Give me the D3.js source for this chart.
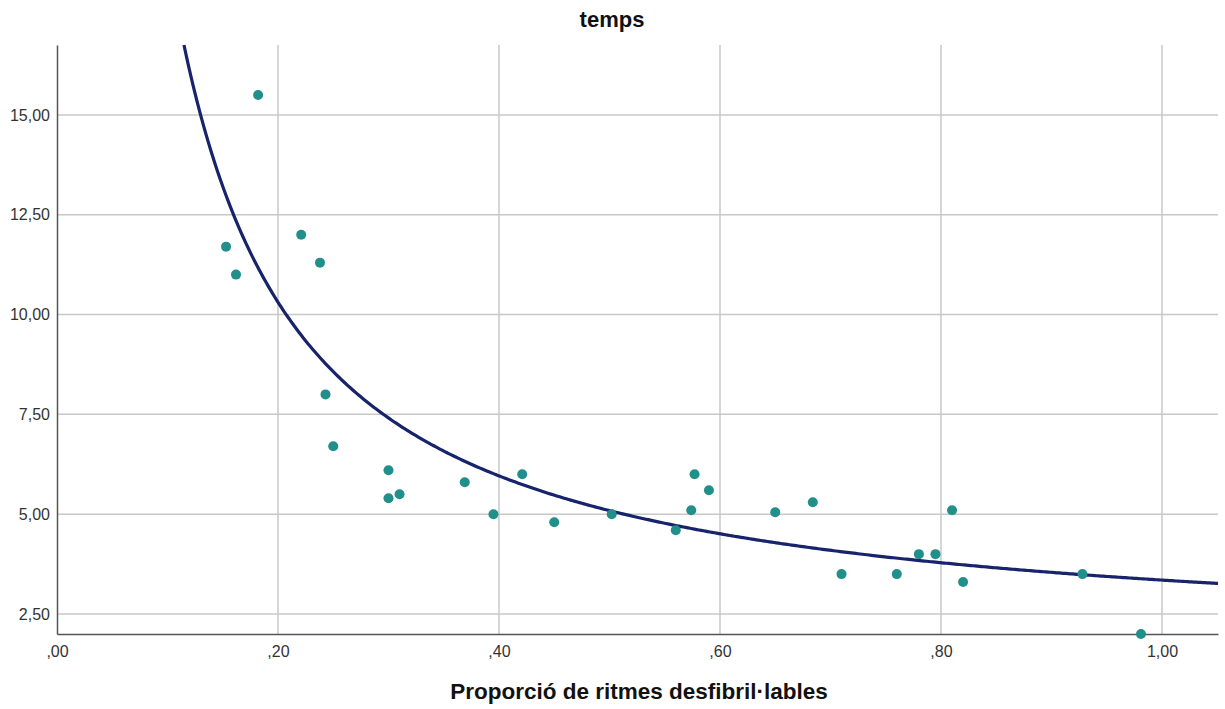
<!DOCTYPE html>
<html>
<head>
<meta charset="utf-8">
<script src="https://cdn.jsdelivr.net/npm/d3@7"></script>
<style>
	body { margin: 0; background: #fff; }
	.grid line { stroke: #c8c8c8; stroke-width: 1.5; }
	.axis text { font-family: "Liberation Sans", Arial, sans-serif; font-size: 16px; fill: #333; }
	.title { font-family: "Liberation Sans", Arial, sans-serif; font-weight: bold; fill: #111; }
</style>
</head>
<body>
<div class="box"></div>
<script>
// proporció de ritmes desfibril·lables vs temps
var xs = [0.153, 0.162, 0.182, 0.221, 0.238, 0.243, 0.250, 0.300, 0.300, 0.310,
	0.369, 0.395, 0.421, 0.450, 0.502, 0.560, 0.574, 0.577, 0.590, 0.650,
	0.684, 0.710, 0.760, 0.780, 0.795, 0.810, 0.820, 0.928, 0.981];
var ys = [11.7, 11.0, 15.5, 12.0, 11.3, 8.0, 6.7, 6.1, 5.4, 5.5,
	5.8, 5.0, 6.0, 4.8, 5.0, 4.6, 5.1, 6.0, 5.6, 5.05,
	5.3, 3.5, 3.5, 4.0, 4.0, 5.1, 3.3, 3.5, 2.0];

// inverse fit: y = b0 + b1 / x
var fit = [1.61, 1.74];

var xTicks = [0, 0.2, 0.4, 0.6, 0.8, 1.0];
var yTicks = [2.5, 5, 7.5, 10, 12.5, 15];

var width = 1225, height = 709;
var margin = {left: 57, right: 7, top: 45, bottom: 75};

var svg = d3.select('.box')
	.append('svg')
	.attr('width', width)
	.attr('height', height);

var x = d3.scaleLinear()
	.domain([0, 1.0507])
	.range([margin.left, width - margin.right]);

var y = d3.scaleLinear()
	.domain([2, 16.75])
	.range([height - margin.bottom, margin.top]);

function fmt(v) {
	var s = d3.format('.2f')(v).replace('.', ',');
	return s.indexOf('0,') === 0 ? s.slice(1) : s;
}

// grid
var grid = svg.append('g').attr('class', 'grid');
grid.selectAll('line.v')
	.data(xTicks.filter(function(d) { return d > 0; }))
	.enter()
	.append('line')
		.attr('x1', function(d) { return x(d); })
		.attr('x2', function(d) { return x(d); })
		.attr('y1', y.range()[1])
		.attr('y2', y.range()[0]);
grid.selectAll('line.h')
	.data(yTicks)
	.enter()
	.append('line')
		.attr('x1', x.range()[0])
		.attr('x2', x.range()[1])
		.attr('y1', function(d) { return y(d); })
		.attr('y2', function(d) { return y(d); });

// axes
var xAxis = svg.append('g')
	.attr('class', 'axis')
	.attr('transform', 'translate(0,' + y.range()[0] + ')')
	.call(d3.axisBottom(x).tickValues(xTicks).tickFormat(fmt).tickSize(0).tickPadding(12));
xAxis.select('.domain').attr('stroke', '#555').attr('stroke-width', 1.5);

var yAxis = svg.append('g')
	.attr('class', 'axis')
	.attr('transform', 'translate(' + x.range()[0] + ',0)')
	.call(d3.axisLeft(y).tickValues(yTicks).tickFormat(fmt).tickSize(0).tickPadding(7));
yAxis.select('.domain').attr('stroke', '#555').attr('stroke-width', 1.5);

// fit curve
var xmin = fit[1] / (y.domain()[1] - fit[0]);
var curveX = d3.range(xmin, x.domain()[1], 0.002).concat([x.domain()[1]]);

svg.append('path')
	.datum(curveX)
	.attr('fill', 'none')
	.attr('stroke', '#17236b')
	.attr('stroke-width', 3.2)
	.attr('d', d3.line()
		.x(function(d) { return x(d); })
		.y(function(d) { return y(fit[0] + fit[1] / d); }));

// points
svg.selectAll('circle.point')
	.data(xs.map(function(v, i) { return {x: v, y: ys[i]}; }))
	.enter()
	.append('circle')
		.attr('class', 'point')
		.attr('cx', function(d) { return x(d.x); })
		.attr('cy', function(d) { return y(d.y); })
		.attr('r', 5)
		.attr('fill', '#21908a');

// titles
svg.append('text')
	.attr('class', 'title')
	.attr('x', 612)
	.attr('y', 27)
	.attr('text-anchor', 'middle')
	.style('font-size', '22px')
	.text('temps');

svg.append('text')
	.attr('class', 'title')
	.attr('x', 639)
	.attr('y', 699)
	.attr('text-anchor', 'middle')
	.style('font-size', '22.5px')
	.text('Proporció de ritmes desfibril·lables');
</script>
</body>
</html>
